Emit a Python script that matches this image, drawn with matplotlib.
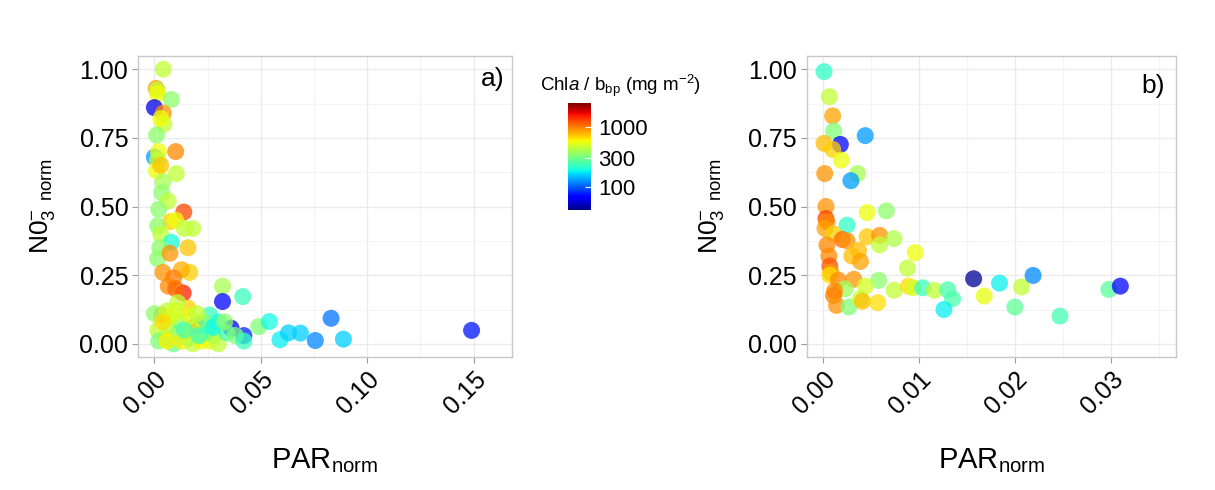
import matplotlib.pyplot as plt
from matplotlib.colors import LogNorm
import matplotlib.cm as cm

plt.rcParams['font.family'] = ['Liberation Sans', 'DejaVu Sans']
plt.rcParams['mathtext.fontset'] = 'custom'
plt.rcParams['mathtext.rm'] = 'Liberation Sans'
plt.rcParams['mathtext.it'] = 'Liberation Sans:italic'

# panel a: PAR_norm, NO3_norm, Chla/bbp
par_a = [0.0042, 0.0008, 0.0012, 0.0015, 0.0080, 0.0000, 0.0042, 0.0045, 0.0030, 0.0010,
         0.0000, 0.0020, 0.0100, 0.0015, 0.0010, 0.0030, 0.0103, 0.0040, 0.0035, 0.0065,
         0.0020, 0.0138, 0.0075, 0.0100, 0.0180, 0.0140, 0.0015, 0.0030, 0.0080, 0.0158,
         0.0025, 0.0015, 0.0073, 0.0040, 0.0166, 0.0127, 0.0090, 0.0065, 0.0135, 0.0100,
         0.0320, 0.0415, 0.0320, 0.0158, 0.0110, 0.0034, 0.0000, 0.0060, 0.0015, 0.0197,
         0.0260, 0.0250, 0.0360, 0.0420, 0.0490, 0.0540, 0.0590, 0.0630, 0.0686, 0.0756,
         0.0830, 0.0888, 0.1490,
         0.0158, 0.0110, 0.0070, 0.0050, 0.0020, 0.0090, 0.0130, 0.0180, 0.0220, 0.0260,
         0.0280, 0.0300, 0.0230, 0.0300, 0.0340, 0.0380, 0.0420, 0.0120, 0.0180, 0.0210,
         0.0080, 0.0040, 0.0160, 0.0200, 0.0275, 0.0330, 0.0100, 0.0140, 0.0060]
no3_a = [1.000, 0.930, 0.925, 0.910, 0.890, 0.860, 0.840, 0.800, 0.820, 0.760,
         0.680, 0.700, 0.700, 0.670, 0.630, 0.650, 0.620, 0.590, 0.550, 0.520,
         0.490, 0.480, 0.445, 0.450, 0.420, 0.420, 0.430, 0.400, 0.370, 0.350,
         0.350, 0.310, 0.330, 0.260, 0.260, 0.270, 0.240, 0.210, 0.185, 0.200,
         0.210, 0.172, 0.154, 0.130, 0.150, 0.105, 0.110, 0.120, 0.050, 0.069,
         0.105, 0.050, 0.057, 0.030, 0.063, 0.081, 0.015, 0.040, 0.039, 0.012,
         0.093, 0.017, 0.049,
         0.020, 0.040, 0.060, 0.020, 0.010, 0.000, 0.010, 0.000, 0.010, 0.010,
         0.030, 0.000, 0.080, 0.080, 0.040, 0.030, 0.010, 0.080, 0.050, 0.030,
         0.100, 0.080, 0.100, 0.110, 0.060, 0.080, 0.120, 0.050, 0.010]
chl_a = [450, 900, 450, 570, 350, 60, 900, 450, 570, 350,
         130, 570, 950, 450, 570, 730, 450, 400, 350, 450,
         350, 1250, 700, 570, 450, 450, 350, 450, 200, 730,
         350, 350, 900, 900, 700, 800, 1000, 950, 1500, 1100,
         400, 230, 70, 700, 450, 900, 350, 450, 450, 130,
         230, 190, 70, 80, 330, 190, 180, 160, 160, 120,
         110, 160, 75,
         220, 350, 400, 450, 330, 300, 600, 450, 580, 550,
         330, 450, 350, 200, 250, 330, 230, 330, 600, 230,
         500, 650, 550, 450, 190, 350, 500, 250, 600]

# panel b
par_b = [0.0001, 0.00066, 0.0010, 0.0011, 0.0018, 0.0001, 0.0010, 0.0019, 0.0044, 0.0036,
         0.0029, 0.00017, 0.0003, 0.0003, 0.0004, 0.0002, 0.0025, 0.0046, 0.0066, 0.0011,
         0.0020, 0.0025, 0.0046, 0.0059, 0.0059, 0.0074, 0.0004, 0.0037, 0.0030, 0.0039,
         0.0096, 0.0006, 0.0007, 0.0008, 0.0007, 0.0088, 0.0032, 0.0016, 0.0058, 0.0044,
         0.0023, 0.0012, 0.0011, 0.0014, 0.0027, 0.0039, 0.0041, 0.0057, 0.0074, 0.0089,
         0.0094, 0.0104, 0.0116, 0.0130, 0.0135, 0.0126, 0.0157, 0.0168, 0.0184, 0.0207,
         0.0200, 0.0219, 0.0247, 0.0298, 0.0310]
no3_b = [0.991, 0.900, 0.830, 0.775, 0.726, 0.730, 0.708, 0.669, 0.758, 0.620,
         0.594, 0.620, 0.500, 0.456, 0.444, 0.420, 0.432, 0.478, 0.484, 0.400,
         0.380, 0.375, 0.390, 0.395, 0.360, 0.383, 0.360, 0.340, 0.320, 0.300,
         0.332, 0.320, 0.283, 0.260, 0.250, 0.276, 0.235, 0.232, 0.231, 0.210,
         0.200, 0.192, 0.176, 0.140, 0.134, 0.164, 0.155, 0.150, 0.195, 0.210,
         0.204, 0.204, 0.195, 0.197, 0.164, 0.125, 0.237, 0.174, 0.221, 0.207,
         0.134, 0.249, 0.101, 0.198, 0.210]
chl_b = [220, 450, 850, 330, 70, 750, 700, 570, 130, 400,
         130, 900, 900, 1300, 950, 850, 220, 570, 350, 700,
         1100, 900, 720, 900, 450, 420, 950, 750, 750, 850,
         570, 950, 1200, 900, 650, 450, 900, 950, 350, 500,
         380, 950, 1000, 900, 330, 450, 750, 650, 450, 650,
         500, 230, 450, 250, 250, 180, 45, 550, 180, 450,
         280, 120, 240, 270, 70]

norm = LogNorm(vmin=41, vmax=2500)
fig = plt.figure(figsize=(12.15, 4.9), dpi=100)

ax_a = fig.add_axes([0.1136, 0.2714, 0.3078, 0.6143])
ax_b = fig.add_axes([0.664, 0.2714, 0.3039, 0.6143])
cax = fig.add_axes([0.4675, 0.5714, 0.0189, 0.2184])

panels = [
    (ax_a, par_a, no3_a, chl_a, [0.00, 0.05, 0.10, 0.15], [0.025, 0.075, 0.125],
     (-0.0077, 0.168), 'a)', 0.981, 0.925),
    (ax_b, par_b, no3_b, chl_b, [0.00, 0.01, 0.02, 0.03], [0.005, 0.015, 0.025, 0.035],
     (-0.0017, 0.0368), 'b)', 0.970, 0.902),
]

for ax, x, y, c, xt, xmin, xl, tag, tx, ty in panels:
    ax.scatter(x, y, c=c, cmap='jet', norm=norm, s=150, alpha=0.75,
               edgecolors='none', zorder=3)
    ax.set_xlim(*xl)
    ax.set_ylim(-0.048, 1.048)
    ax.set_xticks(xt)
    ax.set_xticklabels(['%.2f' % v for v in xt], rotation=45, ha='right',
                       rotation_mode='anchor', fontsize=18)
    ax.set_xticks(xmin, minor=True)
    ax.set_yticks([0, 0.25, 0.5, 0.75, 1.0])
    ax.set_yticklabels(['0.00', '0.25', '0.50', '0.75', '1.00'], fontsize=18)
    ax.set_yticks([0.125, 0.375, 0.625, 0.875], minor=True)
    ax.grid(True, which='major', color='#ebebeb', linewidth=1.0, zorder=0)
    ax.grid(True, which='minor', color='#f4f4f4', linewidth=0.8, zorder=0)
    ax.set_axisbelow(True)
    ax.tick_params(which='major', direction='out', length=4, color='#999999', width=0.8,
                   pad=3)
    ax.tick_params(which='minor', length=0)
    for sp in ax.spines.values():
        sp.set_color('#c8c8c8')
        sp.set_linewidth(1.0)
    ax.set_xlabel(r'PAR$_{\mathrm{norm}}$', fontsize=21, labelpad=20)
    ax.set_ylabel(r'N0$_3^{-}$ $_{\mathrm{norm}}$', fontsize=19, labelpad=16)
    ax.text(tx, ty, tag, transform=ax.transAxes, ha='right', va='center', fontsize=19)

sm = cm.ScalarMappable(norm=norm, cmap='jet')
cb = fig.colorbar(sm, cax=cax)
cb.set_ticks([100, 300, 1000])
cb.set_ticklabels(['100', '300', '1000'])
cb.ax.minorticks_off()
cb.ax.tick_params(length=4, color='white', direction='in', labelsize=16, pad=5)
cb.outline.set_visible(False)
fig.text(620 / 1215, 1 - 86 / 490, r'Chl$\mathit{a}$ / b$_{\mathrm{bp}}$ (mg m$^{-2}$)',
         ha='center', va='center', fontsize=13.5)

fig.savefig('out.png', dpi=100, facecolor='white')
